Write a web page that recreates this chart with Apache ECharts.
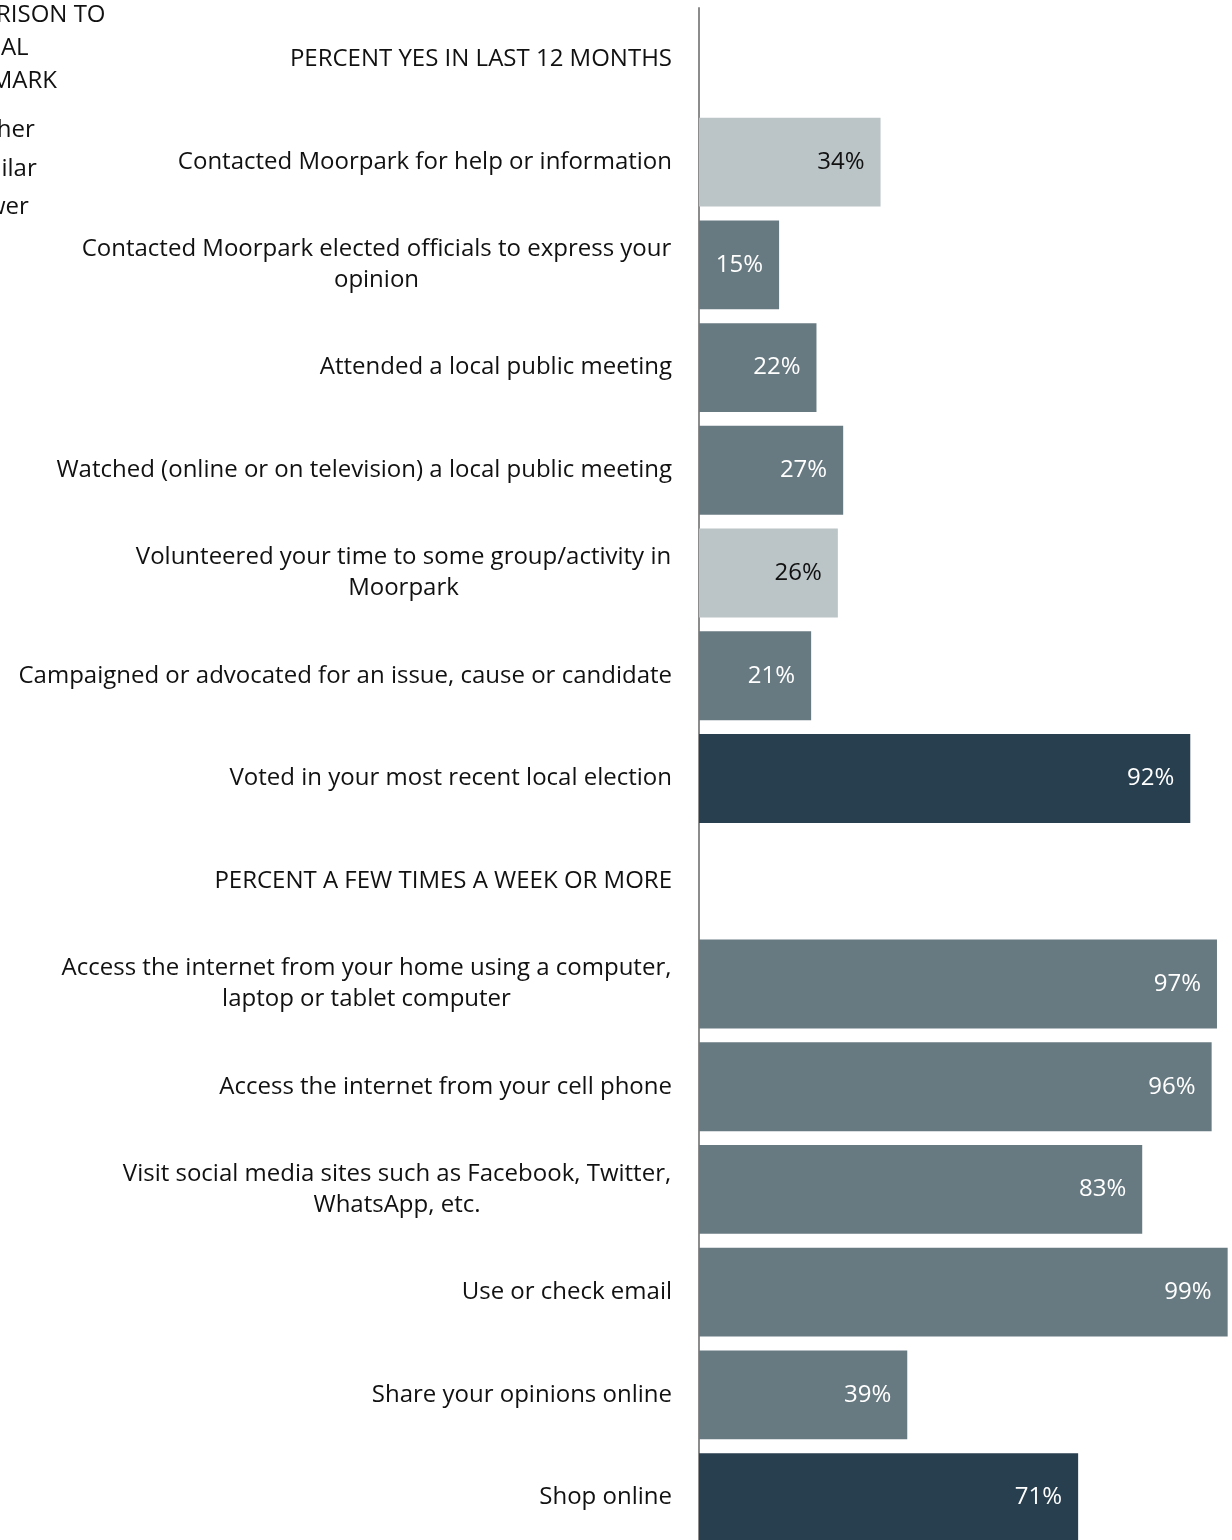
<!DOCTYPE html>
<html>
<head>
<meta charset="utf-8">
<script src="https://cdn.jsdelivr.net/npm/echarts@6/dist/echarts.min.js"></script>
<style>
html,body{margin:0;padding:0;background:#fff;}
#chart{width:1232px;height:1540px;}
</style>
</head>
<body>
<div id="chart"></div>
<script>
var categories = [
  "PERCENT YES IN LAST 12 MONTHS",
  "Contacted Moorpark for help or information",
  "Contacted Moorpark elected officials to express your\nopinion",
  "Attended a local public meeting",
  "Watched (online or on television) a local public meeting",
  "Volunteered your time to some group/activity in\nMoorpark",
  "Campaigned or advocated for an issue, cause or candidate",
  "Voted in your most recent local election",
  "PERCENT A FEW TIMES A WEEK OR MORE",
  "Access the internet from your home using a computer,\nlaptop or tablet computer",
  "Access the internet from your cell phone",
  "Visit social media sites such as Facebook, Twitter,\nWhatsApp, etc.",
  "Use or check email",
  "Share your opinions online",
  "Shop online"
];
var values = [null, 34, 15, 22, 27, 26, 21, 92, null, 97, 96, 83, 99, 39, 71];
var comparison = [null, "Lower", "Similar", "Similar", "Similar", "Lower", "Similar", "Higher",
                  null, "Similar", "Similar", "Similar", "Similar", "Similar", "Higher"];
var legendNames = ["Higher", "Similar", "Lower"];
var legendTitle = "COMPARISON TO\nNATIONAL\nBENCHMARK";

var FONT = '"Open Sans", "Noto Sans", sans-serif';
var FS = 24;
var colorMap = { Higher: "#283f4f", Similar: "#687a81", Lower: "#bbc4c6" };
var labelColorMap = { Higher: "#ffffff", Similar: "#ffffff", Lower: "#111111" };

var ctx = document.createElement("canvas").getContext("2d");
ctx.font = FS + 'px "Open Sans"';
var rich = {};
categories.forEach(function (c, i) {
  if (c.indexOf("\n") >= 0) {
    var w = 0;
    c.split("\n").forEach(function (l) { w = Math.max(w, ctx.measureText(l).width); });
    rich["w" + i] = { width: Math.ceil(w) + 1, align: "center", fontSize: FS, fontFamily: FONT, color: "#111", lineHeight: 31 };
  }
});

var data = values.map(function (v, i) {
  if (v === null) return "-";
  var c = comparison[i];
  return {
    value: v,
    itemStyle: { color: colorMap[c] },
    label: { color: labelColorMap[c] }
  };
});

var series = [{
  name: "Values",
  type: "bar",
  stack: "s",
  data: data,
  barCategoryGap: "13.5%",
  label: {
    show: true,
    position: "insideRight",
    distance: 16,
    fontSize: 24,
    fontFamily: FONT,
    formatter: function (p) { return p.value + "%"; }
  },
  silent: true
}];
legendNames.forEach(function (n) {
  series.push({ name: n, type: "bar", stack: "s", data: [], itemStyle: { color: colorMap[n] } });
});

var chart = echarts.init(document.getElementById("chart"), null, { renderer: "canvas" });
chart.setOption({
  animation: false,
  backgroundColor: "#ffffff",
  title: {
    text: legendTitle,
    left: -89,
    top: -1,
    padding: 0,
    textStyle: { fontSize: FS, fontWeight: "normal", fontFamily: FONT, color: "#111", lineHeight: 33 }
  },
  legend: {
    data: legendNames,
    orient: "vertical",
    left: -59,
    top: 118,
    padding: 0,
    itemGap: 13.5,
    itemWidth: 14,
    itemHeight: 14,
    icon: "rect",
    textStyle: { fontSize: FS, fontFamily: FONT, color: "#111", lineHeight: 25 }
  },
  grid: { left: 699, top: 8, width: 534, height: 1541, containLabel: false, outerBoundsMode: "none" },
  xAxis: { type: "value", min: 0, max: 100, show: false },
  yAxis: {
    type: "category",
    inverse: true,
    data: categories,
    axisLine: { show: true, lineStyle: { color: "#8c8c8c", width: 2 } },
    axisTick: { show: false },
    splitLine: { show: false },
    axisLabel: {
      margin: 27,
      fontSize: FS,
      fontFamily: FONT,
      color: "#111",
      lineHeight: 31,
      interval: 0,
      formatter: function (value, idx) {
        if (value.indexOf("\n") >= 0) {
          return value.split("\n").map(function (l) { return "{w" + idx + "|" + l + "}"; }).join("\n");
        }
        return value;
      },
      rich: rich
    }
  },
  series: series
});
</script>
</body>
</html>
